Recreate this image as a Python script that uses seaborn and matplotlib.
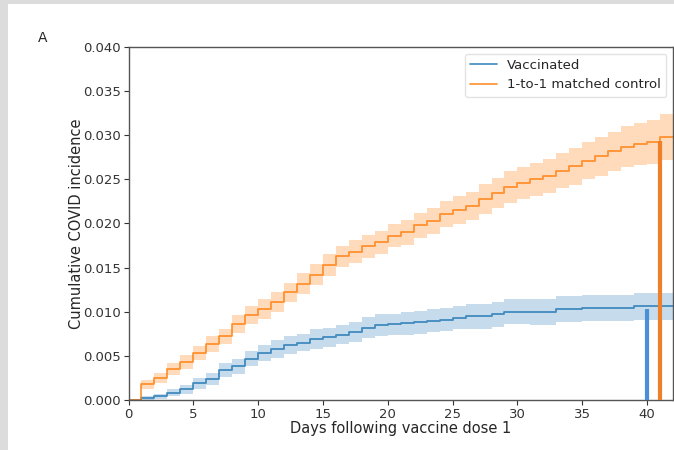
import numpy as np
import pandas as pd
import matplotlib
matplotlib.use('Agg')
import matplotlib.pyplot as plt
import seaborn as sns
from matplotlib.patches import Rectangle
from matplotlib.ticker import MultipleLocator

# Days since dose 1 (step starts)
days = list(range(0, 43))

# Cumulative incidence, vaccinated arm (value held from day d to d+1)
vacc = [0.0, 0.0002, 0.0004, 0.0008, 0.0012, 0.0019, 0.0024, 0.0034, 0.0038, 0.0047,
        0.0053, 0.0058, 0.0062, 0.0065, 0.0069, 0.0071, 0.0074, 0.0077, 0.0082, 0.0085,
        0.0086, 0.0087, 0.0088, 0.0090, 0.0091, 0.0093, 0.0095, 0.0095, 0.0097, 0.0100,
        0.0100, 0.0100, 0.0100, 0.0103, 0.0103, 0.0104, 0.0104, 0.0104, 0.0104, 0.0106,
        0.0106, 0.0106, 0.0106]
vacc_ci = [0.0, 0.0002, 0.0003, 0.0004, 0.0005, 0.0006, 0.0007, 0.0008, 0.0008, 0.0009,
           0.0009, 0.0010, 0.0010, 0.0010, 0.0011, 0.0011, 0.0011, 0.0011, 0.0012, 0.0012,
           0.0012, 0.0013, 0.0013, 0.0013, 0.0013, 0.0013, 0.0014, 0.0014, 0.0014, 0.0014,
           0.0014, 0.0015, 0.0015, 0.0015, 0.0015, 0.0015, 0.0015, 0.0015, 0.0015, 0.0015,
           0.0015, 0.0015, 0.0015]

# Cumulative incidence, 1-to-1 matched control arm
ctrl = [0.0, 0.0018, 0.0025, 0.0035, 0.0043, 0.0053, 0.0063, 0.0072, 0.0086, 0.0096,
        0.0103, 0.0111, 0.0122, 0.0132, 0.0142, 0.0153, 0.0163, 0.0168, 0.0174, 0.0179,
        0.0186, 0.0190, 0.0198, 0.0203, 0.0211, 0.0215, 0.0220, 0.0228, 0.0235, 0.0241,
        0.0246, 0.0250, 0.0254, 0.0260, 0.0265, 0.0271, 0.0276, 0.0282, 0.0287, 0.0290,
        0.0292, 0.0298, 0.0298]
ctrl_ci = [0.0, 0.0005, 0.0006, 0.0007, 0.0008, 0.0008, 0.0009, 0.0009, 0.0010, 0.0010,
           0.0011, 0.0011, 0.0011, 0.0012, 0.0012, 0.0012, 0.0012, 0.0013, 0.0013, 0.0013,
           0.0013, 0.0014, 0.0014, 0.0015, 0.0015, 0.0016, 0.0016, 0.0017, 0.0017, 0.0018,
           0.0018, 0.0019, 0.0019, 0.0020, 0.0021, 0.0021, 0.0022, 0.0022, 0.0023, 0.0024,
           0.0025, 0.0026, 0.0026]

# Marker bars at end of follow-up
bar_days = [40, 41]
bar_heights = [0.0103, 0.0293]
bar_colors = ['#4a90d9', '#f07f2a']

df = pd.DataFrame({'day': days, 'vacc': vacc, 'vacc_ci': vacc_ci,
                   'ctrl': ctrl, 'ctrl_ci': ctrl_ci})

sns.set_style('ticks')
plt.rcParams['font.family'] = ['DejaVu Sans']
plt.rcParams['font.size'] = 9.5

fig = plt.figure(figsize=(6.74, 4.5), dpi=100)
fig.patch.set_facecolor('#dcdcdc')
# white page area behind everything (screenshot has a grey margin left/top)
fig.patches.append(Rectangle((8 / 674, 0), 1, 1 - 4 / 450, transform=fig.transFigure,
                             facecolor='white', edgecolor='none', zorder=-10))

ax = fig.add_axes([128.5 / 674, 50 / 450, (673 - 128.5) / 674, 353 / 450])
ax.set_facecolor('white')

blue = '#1f77b4'
orange = '#ff7f0e'

sns.lineplot(data=df, x='day', y='vacc', ax=ax, color=blue, alpha=0.8, lw=1.3,
             drawstyle='steps-post', label='Vaccinated')
ax.fill_between(df['day'], df['vacc'] - df['vacc_ci'], df['vacc'] + df['vacc_ci'],
                step='post', color=blue, alpha=0.25, lw=0)
sns.lineplot(data=df, x='day', y='ctrl', ax=ax, color=orange, alpha=0.8, lw=1.3,
             drawstyle='steps-post', label='1-to-1 matched control')
ax.fill_between(df['day'], df['ctrl'] - df['ctrl_ci'], df['ctrl'] + df['ctrl_ci'],
                step='post', color=orange, alpha=0.28, lw=0)

for d, h, c in zip(bar_days, bar_heights, bar_colors):
    ax.vlines(d, 0, h, color=c, lw=3, zorder=5)

ax.set_xlim(0, 42)
ax.set_ylim(0, 0.04)
ax.yaxis.set_major_locator(MultipleLocator(0.005))
ax.xaxis.set_major_locator(MultipleLocator(5))
ax.yaxis.set_major_formatter(matplotlib.ticker.FormatStrFormatter('%.3f'))
for s in ax.spines.values():
    s.set_color('#555555')
    s.set_linewidth(1.0)
ax.tick_params(colors='#333333', length=3.5, pad=2, labelsize=9.5)
ax.set_xlabel('Days following vaccine dose 1', fontsize=10.5, labelpad=0.5)
ax.set_ylabel('Cumulative COVID incidence', fontsize=10.5, labelpad=-1)
ax.legend(loc='upper right', fontsize=9.5, frameon=True, framealpha=0.8,
          edgecolor='#dddddd', fancybox=True)

fig.text(38 / 674, 1 - 38 / 450, 'A', fontsize=10, va='center', ha='left')

fig.savefig('out.png', dpi=100, facecolor=fig.get_facecolor())
